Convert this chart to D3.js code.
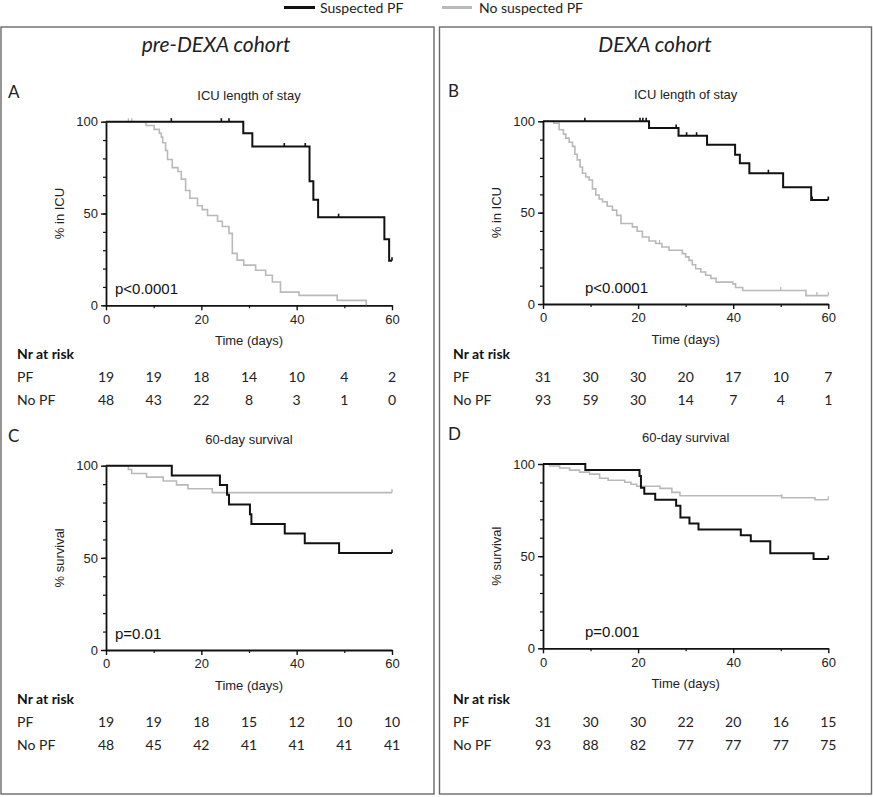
<!DOCTYPE html>
<html><head><meta charset="utf-8">
<script src="https://cdn.jsdelivr.net/npm/d3@7"></script>
<style>
html,body{margin:0;padding:0;background:#fff;}
svg{display:block;}
</style></head>
<body>
<svg id="c" width="873" height="797"></svg>
<script>
// ---------- data ----------
const legendLabels = ["Suspected PF", "No suspected PF"];
const cohortTitles = ["pre-DEXA cohort", "DEXA cohort"];
const panelLetters = ["A", "B", "C", "D"];
const panelTitles = ["ICU length of stay", "ICU length of stay", "60-day survival", "60-day survival"];
const yAxisLabels = ["% in ICU", "% in ICU", "% survival", "% survival"];
const pValues = ["p<0.0001", "p<0.0001", "p=0.01", "p=0.001"];
const xTicks = [0, 20, 40, 60];
const yTicks = [0, 50, 100];
const riskDays = [0, 10, 20, 30, 40, 50, 60];
const riskRowLabels = ["PF", "No PF"];

const riskPF_A = [19, 19, 18, 14, 10, 4, 2];
const riskNoPF_A = [48, 43, 22, 8, 3, 1, 0];
const riskPF_B = [31, 30, 30, 20, 17, 10, 7];
const riskNoPF_B = [93, 59, 30, 14, 7, 4, 1];
const riskPF_C = [19, 19, 18, 15, 12, 10, 10];
const riskNoPF_C = [48, 45, 42, 41, 41, 41, 41];
const riskPF_D = [31, 30, 30, 22, 20, 16, 15];
const riskNoPF_D = [93, 88, 82, 77, 77, 77, 75];

// Kaplan-Meier steps: [day, % after step]
const pfA = [[0,100],[28.8,93.7],[30.7,86.5],[42.7,67.5],[43.5,57.5],[44.5,48],[58.4,36],[59.4,24.3]];
const pfA_end = 60;
const pfA_censor = [13.7,24.2,25.8,37.4,41.8,48.8,60];
const noA = [[0,100],[8.4,97.9],[10.1,95.8],[11.2,93.7],[11.6,91.6],[11.9,88.5],[12.5,84.3],[12.9,79.4],[13.9,75],[15.1,72.9],[15.8,68.7],[16.7,62.5],[17.6,58.3],[19.2,54.2],[20.2,52.1],[21.3,48.9],[23.4,45.8],[24.4,42.9],[25.8,39.2],[26.5,28.3],[27.5,24.6],[28.9,21.9],[31.4,19.1],[33.5,16.4],[34.9,12.7],[36.6,7.2],[40.5,5.4],[48.5,2.7],[54.6,0]];
const noA_end = 54.6;
const noA_censor = [4.7,5.4];

const pfB = [[0,100],[22.3,96.4],[28.5,92.1],[34.5,87.2],[40.4,81.7],[41.4,77.1],[43.4,71.6],[50.5,63.9],[56.4,56.9]];
const pfB_end = 60;
const pfB_censor = [8.8,20.4,21.0,21.7,28.0,30.2,32.3,47.4,56.6,60];
const noB = [[0,100],[2.3,98.9],[3.4,95.4],[4.3,93],[4.8,90.8],[5.5,88.5],[6.2,86.3],[6.7,82],[7.2,78.9],[7.8,75],[8.3,71.6],[9.0,69.5],[9.7,67.9],[10.4,63],[11.1,59.7],[11.8,57.5],[12.5,56],[13.5,53.5],[14.6,51.4],[15.5,48.5],[16.4,44.1],[18.8,42.2],[19.8,39.8],[20.9,36.7],[22.3,34.5],[23.7,33.1],[25,31.2],[26.5,29.4],[29.3,27.6],[30.0,25.8],[30.7,23.9],[31.4,21.5],[32.1,19.3],[33.2,17.5],[34.2,15.7],[35.3,14],[36.4,12],[39.9,11],[40.5,9],[42,7.4],[55.3,4.6]];
const noB_end = 60;
const noB_censor = [24.5,50,57.6,60];

const pfC = [[0,100],[13.8,94.7],[23.9,89.5],[25.4,84.2],[25.8,78.9],[30.2,73.7],[30.5,68.4],[37.5,63.2],[41.7,57.9],[48.9,52.6]];
const pfC_end = 60;
const pfC_censor = [60];
const noC = [[0,100],[4.7,97.9],[5.4,95.8],[8.5,93.8],[12,91.7],[14.8,89.6],[17.2,87.5],[22.3,85.4]];
const noC_end = 60;
const noC_censor = [60];

const pfD = [[0,100],[8.9,96.8],[20.3,93.5],[20.6,87.1],[21.3,83.9],[23.6,80.6],[28,77.4],[28.9,71],[30.8,67.7],[32.7,64.5],[41.6,61.3],[43.7,58.1],[47.8,51.6],[56.9,48.4]];
const pfD_end = 60;
const pfD_censor = [60];
const noD = [[0,100],[1.4,98.9],[3.5,97.8],[5.6,96.7],[7.7,95.6],[9.8,94.5],[11.9,92.3],[13.7,91.2],[17.2,90.1],[18.5,89],[19.7,87.9],[24.6,86.8],[27.1,84.6],[28.8,82.8],[50.2,81.7],[57.2,80.6]];
const noD_end = 60;
const noD_censor = [50.2,60];

// ---------- drawing ----------
const svg = d3.select("#c");
const BLACK = "#111", GRAY = "#b9b9b9";
const chartFont = "'Liberation Sans', Arial, sans-serif";
const tableFont = "Lato, 'Open Sans', sans-serif";

// boxes
svg.append("rect").attr("x",1).attr("y",27).attr("width",433).attr("height",767)
  .attr("fill","none").attr("stroke","#6a6a6a").attr("stroke-width",1.4);
svg.append("rect").attr("x",439.5).attr("y",27).attr("width",432).attr("height",767)
  .attr("fill","none").attr("stroke","#6a6a6a").attr("stroke-width",1.4);

// legend
const legendX = [[284,315,320],[442,472,479]];
const legendColors = [BLACK, GRAY];
legendLabels.forEach((l,i)=>{
  svg.append("line").attr("x1",legendX[i][0]).attr("x2",legendX[i][1]).attr("y1",7.5).attr("y2",7.5)
    .attr("stroke",legendColors[i]).attr("stroke-width",3);
  svg.append("text").attr("x",legendX[i][2]).attr("y",12.5).text(l)
    .attr("font-family",tableFont).attr("font-size",14).attr("fill","#222");
});

// cohort titles
[216,655].forEach((cx,i)=>{
  svg.append("text").attr("x",cx).attr("y",52).attr("text-anchor","middle")
    .attr("font-family",tableFont).attr("font-style","italic").attr("font-size",21)
    .attr("fill","#222").text(cohortTitles[i]);
});

const panels = [
  {x0:106, x1:392, yTop:121.7, yBot:305.3, pf:pfA, pfEnd:pfA_end, pfC:pfA_censor, no:noA, noEnd:noA_end, noC:noA_censor, rPF:riskPF_A, rNo:riskNoPF_A, letterX:8, rowLabelX:17, tableY:354, pX:115},
  {x0:543, x1:828.3, yTop:121.3, yBot:304, pf:pfB, pfEnd:pfB_end, pfC:pfB_censor, no:noB, noEnd:noB_end, noC:noB_censor, rPF:riskPF_B, rNo:riskNoPF_B, letterX:448, rowLabelX:453, tableY:354, pX:585},
  {x0:106, x1:392, yTop:465.7, yBot:650, pf:pfC, pfEnd:pfC_end, pfC:pfC_censor, no:noC, noEnd:noC_end, noC:noC_censor, rPF:riskPF_C, rNo:riskNoPF_C, letterX:8, rowLabelX:17, tableY:699, pX:115},
  {x0:543, x1:828.3, yTop:464, yBot:648.3, pf:pfD, pfEnd:pfD_end, pfC:pfD_censor, no:noD, noEnd:noD_end, noC:noD_censor, rPF:riskPF_D, rNo:riskNoPF_D, letterX:448, rowLabelX:453, tableY:699, pX:585}
];

panels.forEach((p,i)=>{
  const x = d3.scaleLinear().domain([0,60]).range([p.x0,p.x1]);
  const y = d3.scaleLinear().domain([0,100]).range([p.yBot,p.yTop]);
  const g = svg.append("g");
  const cx = (p.x0+p.x1)/2;

  // panel letter and title
  g.append("text").attr("x",p.letterX).attr("y",p.yTop-24).text(panelLetters[i])
    .attr("font-family",tableFont).attr("font-size",17).attr("fill","#222");
  g.append("text").attr("x",cx).attr("y",p.yTop-22).attr("text-anchor","middle").text(panelTitles[i])
    .attr("font-family",chartFont).attr("font-size",13).attr("fill","#222");

  // minor ticks
  const yMinor = d3.axisLeft(y).tickValues(d3.range(0,101,10)).tickSize(3).tickFormat("");
  g.append("g").attr("transform",`translate(${p.x0},0)`).call(yMinor)
    .call(s=>s.selectAll("line").attr("stroke",BLACK).attr("stroke-width",1.2))
    .call(s=>s.select(".domain").remove());
  const xMinor = d3.axisBottom(x).tickValues([10,30,50]).tickSize(3).tickFormat("");
  g.append("g").attr("transform",`translate(0,${p.yBot})`).call(xMinor)
    .call(s=>s.selectAll("line").attr("stroke",BLACK).attr("stroke-width",1.2))
    .call(s=>s.select(".domain").remove());

  // major axes
  const yAx = d3.axisLeft(y).tickValues(yTicks).tickSize(5).tickSizeOuter(0).tickPadding(3);
  g.append("g").attr("transform",`translate(${p.x0},0)`).call(yAx)
    .call(s=>s.selectAll("line").attr("stroke",BLACK).attr("stroke-width",1.4))
    .call(s=>s.select(".domain").attr("stroke",BLACK).attr("stroke-width",1.8))
    .call(s=>s.selectAll("text").attr("font-family",chartFont).attr("font-size",13).attr("fill","#222"));
  const xAx = d3.axisBottom(x).tickValues(xTicks).tickSize(5).tickSizeOuter(0).tickPadding(4);
  g.append("g").attr("transform",`translate(0,${p.yBot})`).call(xAx)
    .call(s=>s.selectAll("line").attr("stroke",BLACK).attr("stroke-width",1.4))
    .call(s=>s.select(".domain").attr("stroke",BLACK).attr("stroke-width",1.8))
    .call(s=>s.selectAll("text").attr("font-family",chartFont).attr("font-size",13).attr("fill","#222"));

  // axis titles
  g.append("text").attr("transform",`translate(${p.x0-42},${(p.yTop+p.yBot)/2}) rotate(-90)`)
    .attr("text-anchor","middle").text(yAxisLabels[i])
    .attr("font-family",chartFont).attr("font-size",13).attr("fill","#222");
  g.append("text").attr("x",cx).attr("y",p.yBot+40).attr("text-anchor","middle").text("Time (days)")
    .attr("font-family",chartFont).attr("font-size",13).attr("fill","#222");

  // p value
  g.append("text").attr("x",p.pX).attr("y",p.yBot-11.5).text(pValues[i])
    .attr("font-family",chartFont).attr("font-size",15).attr("fill","#111");

  // curves
  const line = d3.line().x(d=>x(d[0])).y(d=>y(d[1])).curve(d3.curveStepAfter);
  const drawCurve = (pts,end,cens,color,w)=>{
    const last = pts[pts.length-1];
    const data = pts.concat([[end,last[1]]]);
    g.append("path").attr("d",line(data)).attr("fill","none").attr("stroke",color)
      .attr("stroke-width",w).attr("stroke-linejoin","miter");
    cens.forEach(c=>{
      let v = pts[0][1];
      pts.forEach(pp=>{ if (pp[0]<=c) v = pp[1]; });
      g.append("line").attr("x1",x(c)).attr("x2",x(c)).attr("y1",y(v)).attr("y2",y(v)-3.5)
        .attr("stroke",color).attr("stroke-width",w*0.8);
    });
  };
  drawCurve(p.no,p.noEnd,p.noC,GRAY,1.6);
  drawCurve(p.pf,p.pfEnd,p.pfC,BLACK,2);

  // risk table
  g.append("text").attr("x",p.rowLabelX).attr("y",p.tableY+5).text("Nr at risk")
    .attr("font-family",tableFont).attr("font-weight","bold").attr("font-size",14).attr("fill","#111");
  [p.rPF,p.rNo].forEach((row,r)=>{
    const ry = p.tableY + 23*(r+1) + 5;
    g.append("text").attr("x",p.rowLabelX).attr("y",ry).text(riskRowLabels[r])
      .attr("font-family",tableFont).attr("font-size",14).attr("fill","#222");
    row.forEach((v,k)=>{
      g.append("text").attr("x",x(riskDays[k])).attr("y",ry).attr("text-anchor","middle").text(v)
        .attr("font-family",tableFont).attr("font-size",14).attr("fill","#222");
    });
  });
});
</script>
</body></html>
